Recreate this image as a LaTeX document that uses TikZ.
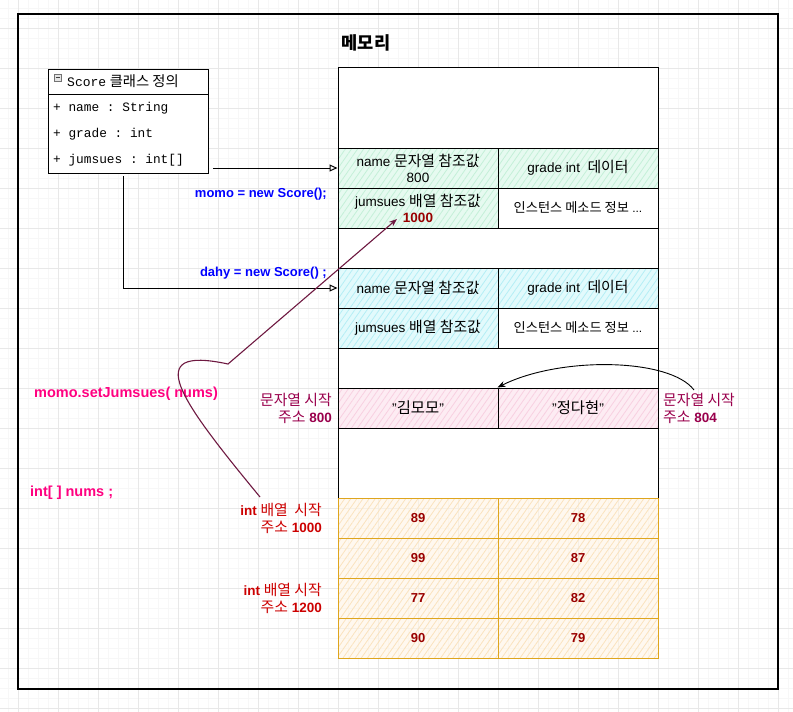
\documentclass[tikz,border=0pt]{standalone}
\usepackage{fontspec}
\setmainfont{Liberation Sans}
\setmonofont{Liberation Mono}
\newfontfamily\kr[Scale=1.1]{Noto Sans CJK KR}
\usetikzlibrary{arrows.meta,patterns.meta}
\definecolor{cellgreen}{RGB}{230,250,240}
\definecolor{hatchgreen}{RGB}{196,240,216}
\definecolor{cellcyan}{RGB}{226,250,252}
\definecolor{hatchcyan}{RGB}{180,238,245}
\definecolor{cellpink}{RGB}{253,236,243}
\definecolor{hatchpink}{RGB}{248,208,225}
\definecolor{intfill}{RGB}{255,244,228}
\definecolor{hatchorange}{RGB}{250,226,190}
\definecolor{intline}{RGB}{222,165,30}
\definecolor{refblue}{RGB}{0,0,255}
\definecolor{callpink}{RGB}{255,0,128}
\definecolor{addrred}{RGB}{204,0,0}
\definecolor{addrmaroon}{RGB}{153,0,76}
\definecolor{numred}{RGB}{153,0,0}
\definecolor{linkmaroon}{RGB}{110,25,65}

\begin{document}
\begin{tikzpicture}[x=1pt,y=-1pt,
    gridfine/.style={black!3, line width=.5pt},
    gridbold/.style={black!9, line width=.7pt},
    hatched/.style n args={3}{preaction={fill=#1, fill opacity=#3}, preaction={pattern={Lines[angle=55,distance=5pt,line width=.8pt]}, pattern color=#2}},
    cellbox/.style={draw, line width=1pt, minimum width=160, minimum height=40, align=center},
    greencell/.style={cellbox, hatched={cellgreen}{hatchgreen}{1}},
    cyancell/.style={cellbox, hatched={cellcyan}{hatchcyan}{1}},
    pinkcell/.style={cellbox, hatched={cellpink}{hatchpink}{1}, font=\fontsize{14}{16}\selectfont},
    whitecell/.style={cellbox, fill=white, font=\fontsize{12}{14}\selectfont},
    intcell/.style={cellbox, draw=intline, hatched={intfill}{hatchorange}{.6}, text=numred, font=\bfseries\fontsize{13}{16}\selectfont},
    attr/.style={anchor=west, font=\ttfamily\fontsize{12.8}{14}\selectfont},
    newlabel/.style={anchor=east, text=refblue, font=\bfseries\fontsize{13}{15}\selectfont},
    codelabel/.style={anchor=west, text=callpink, font=\bfseries\fontsize{14.5}{17}\selectfont},
    addrlabel/.style={text=#1, font=\bfseries\fontsize{13.5}{17}\selectfont},
    newref/.style={line width=1pt, -{Triangle[open,length=8,width=7]}},
    setref/.style={draw=linkmaroon, line width=1.1pt, -{Stealth[length=8,width=6]}},
    strref/.style={line width=.9pt, -{Stealth[length=8,width=6]}}]
  \tikzstyle{every node}+=[inner sep=0pt, font=\fontsize{13.5}{16}\selectfont]
  \useasboundingbox (0,0) rectangle (793,712);
  % background grid
  \foreach \g in {8,18,...,788} \draw[gridfine] (\g,0) -- (\g,712);
  \foreach \g in {8,18,...,708} \draw[gridfine] (0,\g) -- (793,\g);
  \foreach \g in {18,58,...,778} \draw[gridbold] (\g,0) -- (\g,712);
  \foreach \g in {28,68,...,708} \draw[gridbold] (0,\g) -- (793,\g);
  % frame and title
  \node[draw, line width=1.3pt, minimum width=760, minimum height=675] (frame) at (398,351.5) {};
  \node[font=\fontsize{16}{19}\selectfont\kr\bfseries] (title) at (366,43) {메모리};
  % class
  \node[draw, line width=1pt, fill=white, minimum width=160, minimum height=25] (clshead) at (128,81.5) {};
  \node[draw, line width=1pt, fill=white, minimum width=160, minimum height=79] (clsbody) at (128,133.5) {};
  \node[draw=black!55, fill=black!10, minimum size=7] (fold) at (57.5,77.5) {};
  \draw[black!75] ([xshift=-2]fold.center) -- ([xshift=2]fold.center);
  \node[anchor=west, font=\fontsize{13}{15}\selectfont] (clsname) at (67,81.5) {\texttt{Score} {\kr 클래스 정의}};
  \node[attr] (attr1) at (53,108) {+ name : String};
  \node[attr] (attr2) at (53,134) {+ grade : int};
  \node[attr] (attr3) at (53,160) {+ jumsues : int[]};
  % memory
  \node[draw, line width=1pt, fill=white, minimum width=320, minimum height=431] (mem) at (498,282.5) {};
  \node[greencell] (m1name) at (418,168) {name {\kr 문자열 참조값}\\800};
  \node[greencell] (m1grade) at (578,168) {grade int\ \ {\kr 데이터}};
  \node[greencell] (m1arr) at (418,208) {jumsues {\kr 배열 참조값}\\\textcolor{numred}{\textbf{1000}}};
  \node[whitecell] (m1meth) at (578,208) {{\kr 인스턴스 메소드 정보} ...};
  \node[cyancell] (d1name) at (418,288) {name {\kr 문자열 참조값}};
  \node[cyancell] (d1grade) at (578,288) {grade int\ \ {\kr 데이터}};
  \node[cyancell] (d1arr) at (418,328) {jumsues {\kr 배열 참조값}};
  \node[whitecell] (d1meth) at (578,328) {{\kr 인스턴스 메소드 정보} ...};
  \node[pinkcell] (s1) at (418,408) {"{\kr 김모모}"};
  \node[pinkcell] (s2) at (578,408) {"{\kr 정다현}"};
  \foreach \v/\w [count=\i] in {89/78,99/87,77/82,90/79} {
    \node[intcell] (a\i) at (418,478+40*\i) {\v};
    \node[intcell] (b\i) at (578,478+40*\i) {\w};
  }
  % labels
  \node[newlabel] (momolbl) at (327,194) {momo = new Score();};
  \node[newlabel] (dahylbl) at (327,273) {dahy = new Score() ;};
  \node[codelabel] (calllbl) at (34,394) {momo.setJumsues( nums)};
  \node[codelabel] (numslbl) at (30,493) {int[ ] nums ;};
  \node[addrlabel=addrmaroon, anchor=east, align=right] (str800) at (332,408.5) {{\kr\mdseries 문자열 시작}\\{\kr\mdseries 주소} 800};
  \node[addrlabel=addrmaroon, anchor=west, align=left] (str804) at (663,408.5) {{\kr\mdseries 문자열 시작}\\{\kr\mdseries 주소} 804};
  \node[addrlabel=addrred, anchor=east, align=right] (int1000) at (322,518.5) {int {\kr\mdseries 배열\ \ 시작}\\{\kr\mdseries 주소} 1000};
  \node[addrlabel=addrred, anchor=east, align=right] (int1200) at (322,598.5) {int {\kr\mdseries 배열 시작}\\{\kr\mdseries 주소} 1200};
  % references
  \coordinate (clsout) at (213,168);
  \coordinate (clsdown) at (123,176);
  \draw[newref] (clsout) -- (m1name.west);
  \draw[newref] (clsdown) |- (d1name.west);
  \coordinate (setfrom) at (260,497);
  \coordinate (setto) at (397,219);
  \draw[setref] (setfrom) .. controls (180,400) and (140,345) .. (228,364) -- (setto);
  \coordinate (strfrom) at (694,390);
  \draw[strref] (strfrom) .. controls (670,358) and (560,356) .. (s2.north west);
\end{tikzpicture}
\end{document}
